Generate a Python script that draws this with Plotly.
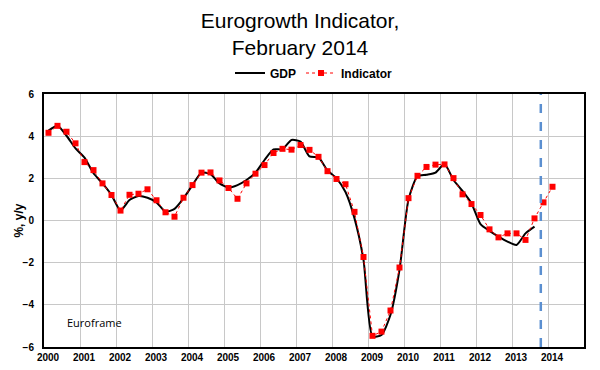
import plotly.graph_objects as go

# Quarterly data, 2000Q1 onwards
start_year = 2000
indicator = [4.16, 4.49, 4.21, 3.66, 2.77, 2.39, 1.76, 1.21, 0.47, 1.22,
             1.27, 1.48, 0.96, 0.39, 0.18, 1.08, 1.68, 2.27, 2.28, 1.90,
             1.54, 1.03, 1.76, 2.22, 2.63, 3.20, 3.40, 3.36, 3.58, 3.35,
             3.02, 2.34, 1.97, 1.72, 0.41, -1.73, -5.47, -5.27, -4.27, -2.23,
             1.06, 2.12, 2.54, 2.65, 2.66, 2.01, 1.24, 0.78, 0.26, -0.42,
             -0.80, -0.61, -0.61, -0.92, 0.10, 0.86, 1.60]
gdp = [4.26, 4.49, 4.02, 3.42, 2.98, 2.24, 1.76, 1.21, 0.47, 0.97,
       1.16, 1.08, 0.86, 0.42, 0.55, 1.05, 1.68, 2.27, 2.20, 1.76,
       1.56, 1.68, 1.92, 2.27, 2.87, 3.37, 3.38, 3.82, 3.74, 3.04,
       2.99, 2.37, 2.00, 1.35, 0.10, -1.87, -5.50, -5.43, -4.47, -2.34,
       1.00, 2.10, 2.17, 2.27, 2.68, 1.92, 1.40, 0.81, -0.17, -0.49,
       -0.76, -1.00, -1.16, -0.61, -0.29]
years = list(range(2000, 2015))
year_labels = [str(y) for y in years]
forecast_cut = 2013.8

def qx(n):
    return [start_year + (i + 0.5) / 4 for i in range(n)]

FONT = "Liberation Sans, Arial, sans-serif"

fig = go.Figure()
fig.add_trace(go.Scatter(
    x=qx(len(gdp)), y=gdp, name="GDP", mode="lines",
    line=dict(color="black", width=2, shape="spline", smoothing=0.6),
))
fig.add_trace(go.Scatter(
    x=qx(len(indicator)), y=indicator, name="Indicator", mode="lines+markers",
    line=dict(color="#ff0000", width=1, dash="dot"),
    marker=dict(symbol="square", size=6, color="#ff0000"),
))

fig.add_shape(type="line", xref="x", yref="paper", x0=forecast_cut, x1=forecast_cut,
              y0=0, y1=1, line=dict(color="#5b8fd0", width=2.5, dash="dash"))

fig.add_annotation(text="Euroframe", xref="paper", yref="paper", x=0.039, y=0.096,
                   xanchor="left", yanchor="middle", showarrow=False,
                   font=dict(family="Open Sans, sans-serif", size=11, color="black"))
fig.add_annotation(text="%, y/y", xref="paper", yref="paper", x=-0.048, y=0.5,
                   xanchor="center", yanchor="middle", textangle=-90, showarrow=False,
                   font=dict(family=FONT, size=12, color="black", weight="bold"))

fig.update_layout(
    width=600, height=370,
    margin=dict(l=44, r=16, t=94, b=23),
    paper_bgcolor="white", plot_bgcolor="white",
    font=dict(family=FONT, color="black"),
    title=dict(text="Eurogrowth Indicator,<br>February 2014", x=0.5, xref="container",
               xanchor="center", y=1 - 28 / 370, yref="container", yanchor="top",
               font=dict(family=FONT, size=21, color="black")),
    legend=dict(orientation="h", x=0.5, xanchor="center", y=1.083, yanchor="middle",
                font=dict(family=FONT, size=12, color="black", weight="bold"),
                itemwidth=30, bgcolor="rgba(0,0,0,0)"),
    showlegend=True,
)
fig.update_xaxes(range=[2000, 2015], tickvals=years, ticktext=year_labels,
                 showgrid=True, gridcolor="#c8c8c8", gridwidth=1,
                 showline=True, linecolor="black", linewidth=2, mirror=True,
                 zeroline=False, ticks="", automargin=False, ticklabelshift=4,
                 tickfont=dict(family=FONT, size=10, color="black", weight="bold"))
fig.update_yaxes(range=[-6, 6], dtick=2, tick0=0,
                 showgrid=True, gridcolor="#c8c8c8", gridwidth=1,
                 showline=True, linecolor="black", linewidth=2, mirror=True,
                 zeroline=False, ticks="", automargin=False, ticklabelstandoff=6,
                 tickfont=dict(family=FONT, size=10, color="black", weight="bold"))

fig.write_html("out.html", config={"displayModeBar": False},
               post_script="document.body.style.margin='0';")
